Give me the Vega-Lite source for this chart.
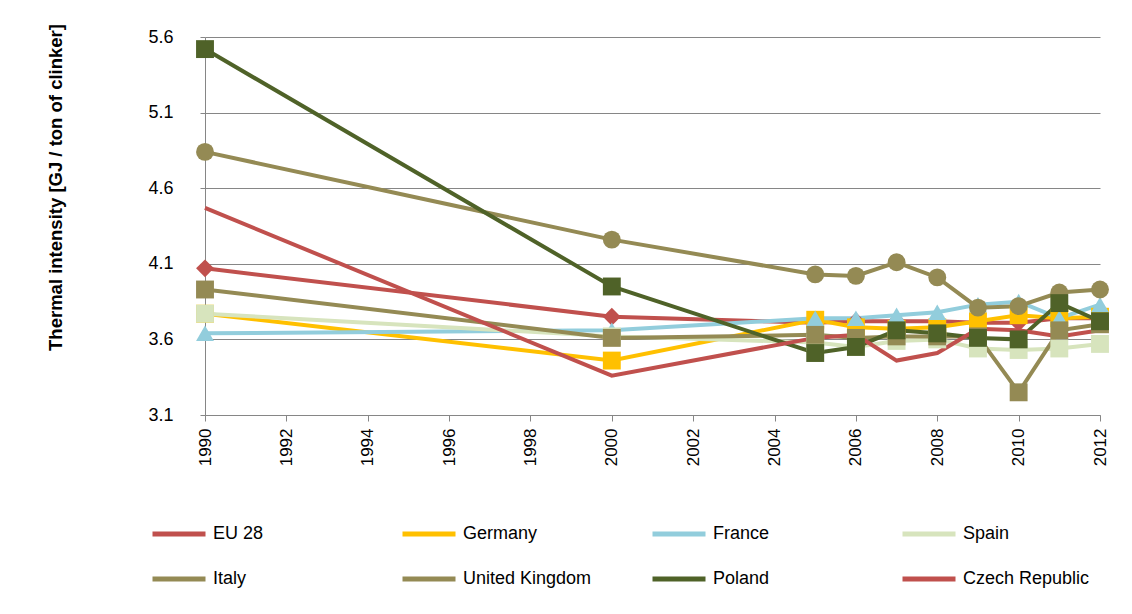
{
  "$schema": "https://vega.github.io/schema/vega-lite/v6.json",
  "autosize": "none",
  "width": 895,
  "height": 378,
  "padding": {"left": 205, "top": 37, "right": 32, "bottom": 199},
  "background": "white",
  "config": {
    "view": {"stroke": null},
    "font": "Liberation Sans"
  },
  "data": {
    "values": [
      {"series": "EU 28", "year": 1990, "value": 4.07},
      {"series": "EU 28", "year": 2000, "value": 3.75},
      {"series": "EU 28", "year": 2005, "value": 3.71},
      {"series": "EU 28", "year": 2006, "value": 3.72},
      {"series": "EU 28", "year": 2007, "value": 3.72},
      {"series": "EU 28", "year": 2008, "value": 3.72},
      {"series": "EU 28", "year": 2009, "value": 3.71},
      {"series": "EU 28", "year": 2010, "value": 3.71},
      {"series": "EU 28", "year": 2011, "value": 3.74},
      {"series": "EU 28", "year": 2012, "value": 3.74},
      {"series": "Germany", "year": 1990, "value": 3.77},
      {"series": "Germany", "year": 2000, "value": 3.46},
      {"series": "Germany", "year": 2005, "value": 3.73},
      {"series": "Germany", "year": 2006, "value": 3.68},
      {"series": "Germany", "year": 2007, "value": 3.67},
      {"series": "Germany", "year": 2008, "value": 3.68},
      {"series": "Germany", "year": 2009, "value": 3.72},
      {"series": "Germany", "year": 2010, "value": 3.76},
      {"series": "Germany", "year": 2011, "value": 3.74},
      {"series": "Germany", "year": 2012, "value": 3.75},
      {"series": "France", "year": 1990, "value": 3.64},
      {"series": "France", "year": 2000, "value": 3.66},
      {"series": "France", "year": 2005, "value": 3.74},
      {"series": "France", "year": 2006, "value": 3.74},
      {"series": "France", "year": 2007, "value": 3.76},
      {"series": "France", "year": 2008, "value": 3.78},
      {"series": "France", "year": 2009, "value": 3.83},
      {"series": "France", "year": 2010, "value": 3.85},
      {"series": "France", "year": 2011, "value": 3.74},
      {"series": "France", "year": 2012, "value": 3.83},
      {"series": "Spain", "year": 1990, "value": 3.77},
      {"series": "Spain", "year": 2000, "value": 3.62},
      {"series": "Spain", "year": 2005, "value": 3.58},
      {"series": "Spain", "year": 2006, "value": 3.55},
      {"series": "Spain", "year": 2007, "value": 3.59},
      {"series": "Spain", "year": 2008, "value": 3.6},
      {"series": "Spain", "year": 2009, "value": 3.54},
      {"series": "Spain", "year": 2010, "value": 3.53},
      {"series": "Spain", "year": 2011, "value": 3.54},
      {"series": "Spain", "year": 2012, "value": 3.57},
      {"series": "Italy", "year": 1990, "value": 3.93},
      {"series": "Italy", "year": 2000, "value": 3.61},
      {"series": "Italy", "year": 2005, "value": 3.63},
      {"series": "Italy", "year": 2006, "value": 3.61},
      {"series": "Italy", "year": 2007, "value": 3.62},
      {"series": "Italy", "year": 2008, "value": 3.62},
      {"series": "Italy", "year": 2009, "value": 3.62},
      {"series": "Italy", "year": 2010, "value": 3.25},
      {"series": "Italy", "year": 2011, "value": 3.66},
      {"series": "Italy", "year": 2012, "value": 3.7},
      {"series": "United Kingdom", "year": 1990, "value": 4.84},
      {"series": "United Kingdom", "year": 2000, "value": 4.26},
      {"series": "United Kingdom", "year": 2005, "value": 4.03},
      {"series": "United Kingdom", "year": 2006, "value": 4.02},
      {"series": "United Kingdom", "year": 2007, "value": 4.11},
      {"series": "United Kingdom", "year": 2008, "value": 4.01},
      {"series": "United Kingdom", "year": 2009, "value": 3.81},
      {"series": "United Kingdom", "year": 2010, "value": 3.82},
      {"series": "United Kingdom", "year": 2011, "value": 3.91},
      {"series": "United Kingdom", "year": 2012, "value": 3.93},
      {"series": "Poland", "year": 1990, "value": 5.52},
      {"series": "Poland", "year": 2000, "value": 3.95},
      {"series": "Poland", "year": 2005, "value": 3.51},
      {"series": "Poland", "year": 2006, "value": 3.55},
      {"series": "Poland", "year": 2007, "value": 3.66},
      {"series": "Poland", "year": 2008, "value": 3.64},
      {"series": "Poland", "year": 2009, "value": 3.61},
      {"series": "Poland", "year": 2010, "value": 3.6},
      {"series": "Poland", "year": 2011, "value": 3.84},
      {"series": "Poland", "year": 2012, "value": 3.72},
      {"series": "Czech Republic", "year": 1990, "value": 4.47},
      {"series": "Czech Republic", "year": 2000, "value": 3.36},
      {"series": "Czech Republic", "year": 2005, "value": 3.61},
      {"series": "Czech Republic", "year": 2006, "value": 3.63},
      {"series": "Czech Republic", "year": 2007, "value": 3.46},
      {"series": "Czech Republic", "year": 2008, "value": 3.51},
      {"series": "Czech Republic", "year": 2009, "value": 3.67},
      {"series": "Czech Republic", "year": 2010, "value": 3.66},
      {"series": "Czech Republic", "year": 2011, "value": 3.62},
      {"series": "Czech Republic", "year": 2012, "value": 3.66}
    ]
  },
  "encoding": {
    "x": {
      "field": "year",
      "type": "quantitative",
      "scale": {"domain": [1990, 2012], "nice": false, "zero": false},
      "axis": {
        "title": null,
        "values": [1990, 1992, 1994, 1996, 1998, 2000, 2002, 2004, 2006, 2008, 2010, 2012],
        "format": "d",
        "labelAngle": -90,
        "labelAlign": "right",
        "labelBaseline": "middle",
        "labelFontSize": 17,
        "labelColor": "#000000",
        "labelPadding": 7,
        "tickSize": 6,
        "tickColor": "#868686",
        "domainColor": "#868686",
        "grid": false
      }
    },
    "y": {
      "field": "value",
      "type": "quantitative",
      "scale": {"domain": [3.1, 5.6], "nice": false, "zero": false},
      "axis": {
        "title": "Thermal intensity [GJ / ton of clinker]",
        "titleFontSize": 18.5,
        "titleFontWeight": "bold",
        "titleColor": "#000000",
        "titleX": -150,
        "titleY": 150,
        "titleBaseline": "middle",
        "values": [3.1, 3.6, 4.1, 4.6, 5.1, 5.6],
        "format": ".1f",
        "labelFontSize": 18,
        "labelColor": "#000000",
        "labelPadding": 27,
        "tickSize": 5,
        "tickColor": "#868686",
        "domainColor": "#868686",
        "grid": true,
        "gridColor": "#868686",
        "gridWidth": 1
      }
    },
    "color": {
      "field": "series",
      "type": "nominal",
      "scale": {
        "domain": ["EU 28", "Germany", "France", "Spain", "Italy", "United Kingdom", "Poland", "Czech Republic"],
        "range": ["#C0504D", "#FFC000", "#92CDDC", "#D7E4BD", "#948A54", "#948A54", "#4F6228", "#C0504D"]
      },
      "legend": {
        "title": null,
        "orient": "none",
        "legendX": -55,
        "legendY": 468,
        "direction": "horizontal",
        "columns": 4,
        "gridAlign": "all",
        "columnPadding": 50,
        "rowPadding": 6,
        "symbolType": "stroke",
        "symbolSize": 2809,
        "symbolStrokeWidth": 5,
        "labelFontSize": 18,
        "labelColor": "#000000",
        "labelOffset": 5
      }
    }
  },
  "layer": [
    {
      "mark": {"type": "line", "strokeWidth": 4}
    },
    {
      "transform": [{"filter": "datum.series !== 'Czech Republic'"}],
      "mark": {"type": "point", "filled": true, "opacity": 1, "size": 320},
      "encoding": {
        "shape": {
          "field": "series",
          "type": "nominal",
          "scale": {
            "domain": ["EU 28", "Germany", "France", "Spain", "Italy", "United Kingdom", "Poland"],
            "range": ["diamond", "square", "triangle-up", "square", "square", "circle", "square"]
          },
          "legend": null
        },
        "color": {
          "field": "series",
          "type": "nominal",
          "legend": null
        }
      }
    }
  ]
}
